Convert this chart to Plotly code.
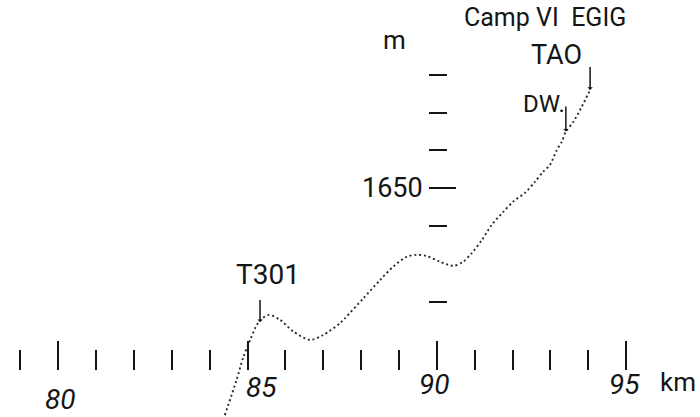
import plotly.graph_objects as go

# Elevation profile (km along traverse, m a.s.l.)
dist_km = [84.40, 84.71, 84.89, 85.07, 85.24, 85.35, 85.55, 85.86, 86.21, 86.65,
           87.00, 87.44, 87.57, 88.06, 88.50, 88.85, 89.21, 89.47, 89.73, 90.08,
           90.44, 90.70, 90.92, 91.19, 91.45, 91.76, 92.02, 92.33, 92.60, 92.81,
           92.99, 93.17, 93.30, 93.41, 93.61, 93.83, 94.05]
elev_m = [1590.0, 1599.3, 1605.4, 1609.9, 1613.8, 1615.2, 1616.5, 1615.2, 1612.1, 1609.9,
          1611.2, 1614.3, 1615.6, 1620.9, 1625.7, 1629.3, 1631.9, 1632.4, 1632.1, 1630.6,
          1629.5, 1630.6, 1632.8, 1636.3, 1640.3, 1643.8, 1646.5, 1648.8, 1651.8, 1654.4,
          1656.2, 1660.1, 1662.3, 1665.0, 1667.6, 1671.6, 1676.0]

x_major = [80, 85, 90, 95]
x_major_labels = ["80", "85", "90", "95"]
x_minor = [79, 81, 82, 83, 84, 86, 87, 88, 89, 91, 92, 93, 94]
y_major = [1650]
y_major_labels = ["1650"]
y_minor = [1620, 1640, 1660, 1670, 1680]

# label placement (data coords)
x_label_pos = [(80.05, 1594.0), (85.38, 1597.2), (89.95, 1598.0), (94.97, 1598.0)]
stations = ["T301", "DW.", "TAO"]
station_tip = [(85.33, 1614.6), (93.41, 1665.0), (94.05, 1676.0)]
station_text = [(85.54, 1627.1), (92.83, 1672.2), (93.15, 1685.3)]

FONT = "Liberation Sans Narrow, Arial Narrow, Roboto, sans-serif"
INK = "#151515"

fig = go.Figure()
fig.add_trace(go.Scatter(
    x=dist_km, y=elev_m, mode="lines",
    line=dict(color="#2a2a2a", width=1.9, dash="2px,2.8px", shape="spline", smoothing=0.8),
    hoverinfo="skip", showlegend=False,
))

ann = []
for lab, (xx, yy) in zip(x_major_labels, x_label_pos):
    ann.append(dict(x=xx, y=yy, text=lab, showarrow=False,
                    font=dict(family=FONT, size=28, color=INK, style="italic")))
ann.append(dict(x=96.37, y=1598.8, text="km", showarrow=False,
                font=dict(family=FONT, size=26, color=INK)))
ann.append(dict(x=88.83, y=1650.1, text=y_major_labels[0], showarrow=False,
                font=dict(family=FONT, size=27, color=INK)))
ann.append(dict(x=88.87, y=1689.2, text="m", showarrow=False,
                font=dict(family=FONT, size=26, color=INK)))
ann.append(dict(x=92.87, y=1695.2, text="Camp VI  EGIG", showarrow=False,
                font=dict(family=FONT, size=25, color=INK)))
sizes = [28, 24, 27]
lens = [24, 27, 25]
for name, (tx, ty), (lx, ly), s, L in zip(stations, station_tip, station_text, sizes, lens):
    ann.append(dict(x=lx, y=ly, text=name, showarrow=False,
                    font=dict(family=FONT, size=s, color=INK)))
    ann.append(dict(x=tx, y=ty, text=" ", showarrow=True, ax=0, ay=-L,
                    arrowhead=1, arrowsize=0.6, arrowwidth=1.5, arrowcolor=INK,
                    font=dict(size=1)))

fig.update_layout(
    width=700, height=417,
    margin=dict(l=0, r=0, t=0, b=0),
    paper_bgcolor="white", plot_bgcolor="white",
    showlegend=False,
    annotations=ann,
    xaxis=dict(
        range=[78.4597, 96.9538], showgrid=False, zeroline=False, showline=False,
        anchor="free", position=1 - 370 / 417,
        tickmode="array", tickvals=x_major, ticks="inside", ticklen=29,
        tickwidth=2, tickcolor=INK, showticklabels=False,
        minor=dict(tickmode="array", tickvals=x_minor, ticks="inside",
                   ticklen=20, tickwidth=2, tickcolor=INK),
    ),
    yaxis=dict(
        range=[1589.50, 1699.81], showgrid=False, zeroline=False, showline=False,
        anchor="free", position=428 / 700,
        tickmode="array", tickvals=y_major, ticks="inside", ticklen=27,
        tickwidth=2, tickcolor=INK, showticklabels=False,
        minor=dict(tickmode="array", tickvals=y_minor, ticks="inside",
                   ticklen=18, tickwidth=2, tickcolor=INK),
    ),
)

fig.write_html("out.html")
